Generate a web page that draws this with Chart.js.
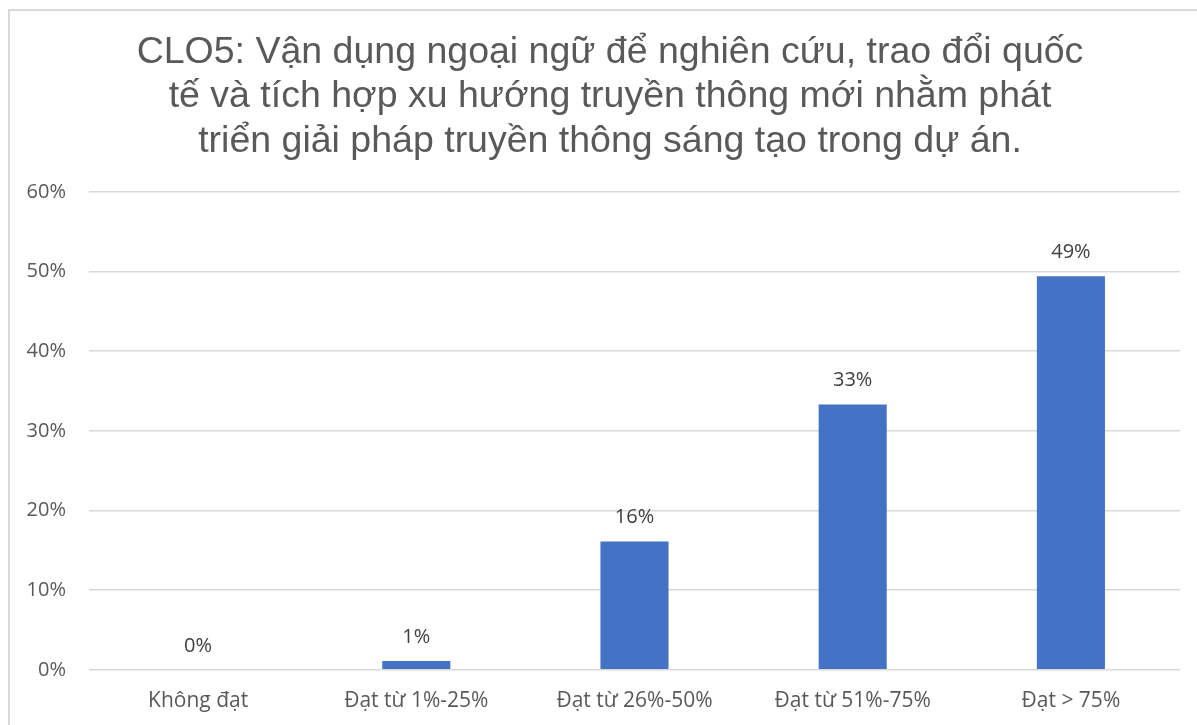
<!DOCTYPE html>
<html lang="vi">
<head>
<meta charset="utf-8">
<title>CLO5</title>
<script src="https://cdn.jsdelivr.net/npm/chart.js@4"></script>
<style>
    html, body { margin: 0; padding: 0; background: #fff; overflow: hidden; }
    #khung {
        position: absolute; left: 8px; top: 9px;
        width: 1204px; height: 730px;
        box-sizing: border-box;
        border: 2px solid #d9d9d9;
        background: #fff;
    }
    #bieuDo { position: absolute; left: 0; top: 0; }
</style>
</head>
<body>
<div id="khung"><canvas id="bieuDo" width="1200" height="726"></canvas></div>
<script>
// Dữ liệu biểu đồ
const tieuDe = [
    'CLO5: Vận dụng ngoại ngữ để nghiên cứu, trao đổi quốc',
    'tế và tích hợp xu hướng truyền thông mới nhằm phát',
    'triển giải pháp truyền thông sáng tạo trong dự án.'
];
const mucDat = ['Không đạt', 'Đạt từ 1%-25%', 'Đạt từ 26%-50%', 'Đạt từ 51%-75%', 'Đạt > 75%'];
const tyLe = [0, 1.1, 16.1, 33.3, 49.4];
const nhanTrucY = ['0%', '10%', '20%', '30%', '40%', '50%', '60%'];

const mauChu = '#595959';
const mauLuoi = '#d9d9d9';
const fontChu = '"Open Sans", "Noto Sans", sans-serif';

// Plugin tự vẽ nhãn giá trị phía trên mỗi cột
const nhanGiaTri = {
    id: 'nhanGiaTri',
    afterDatasetsDraw(chart) {
        const ctx = chart.ctx;
        const meta = chart.getDatasetMeta(0);
        ctx.save();
        ctx.font = '20px ' + fontChu;
        ctx.fillStyle = '#404040';
        ctx.textAlign = 'center';
        ctx.textBaseline = 'middle';
        meta.data.forEach((bar, i) => {
            ctx.fillText(Math.round(tyLe[i]) + '%', bar.x, bar.y - 24);
        });
        ctx.restore();
    }
};

const ctx = document.getElementById('bieuDo').getContext('2d');
new Chart(ctx, {
    type: 'bar',
    data: {
        labels: mucDat,
        datasets: [{
            data: tyLe,
            backgroundColor: '#4472C4',
            borderWidth: 0,
            barPercentage: 1,
            categoryPercentage: 0.312
        }]
    },
    options: {
        responsive: false,
        animation: false,
        layout: { padding: { top: 19, left: 0, right: 0, bottom: 12 } },
        plugins: {
            legend: { display: false },
            tooltip: { enabled: false },
            title: {
                display: true,
                text: tieuDe,
                color: mauChu,
                font: { family: '"Liberation Sans", Arial, sans-serif', size: 37.5, weight: 'normal', lineHeight: 1.19 },
                padding: { top: 0, bottom: 28 }
            }
        },
        scales: {
            x: {
                grid: { display: false },
                border: { display: false },
                ticks: { color: mauChu, font: { family: fontChu, size: 21 }, padding: 11 }
            },
            y: {
                min: 0,
                max: 60,
                border: { display: false },
                grid: { color: mauLuoi, lineWidth: 1.5, drawTicks: false },
                ticks: {
                    stepSize: 10,
                    color: mauChu,
                    font: { family: fontChu, size: 20 },
                    padding: 23,
                    callback: (v) => nhanTrucY[v / 10]
                },
                afterFit: (s) => { s.width = 79; }
            },
            // trục phụ bên phải chỉ để chừa lề, không vẽ gì
            le: {
                position: 'right',
                display: true,
                grid: { display: false },
                border: { display: false },
                ticks: { display: false },
                afterFit: (s) => { s.width = 30; }
            }
        }
    },
    plugins: [nhanGiaTri]
});
</script>
</body>
</html>
